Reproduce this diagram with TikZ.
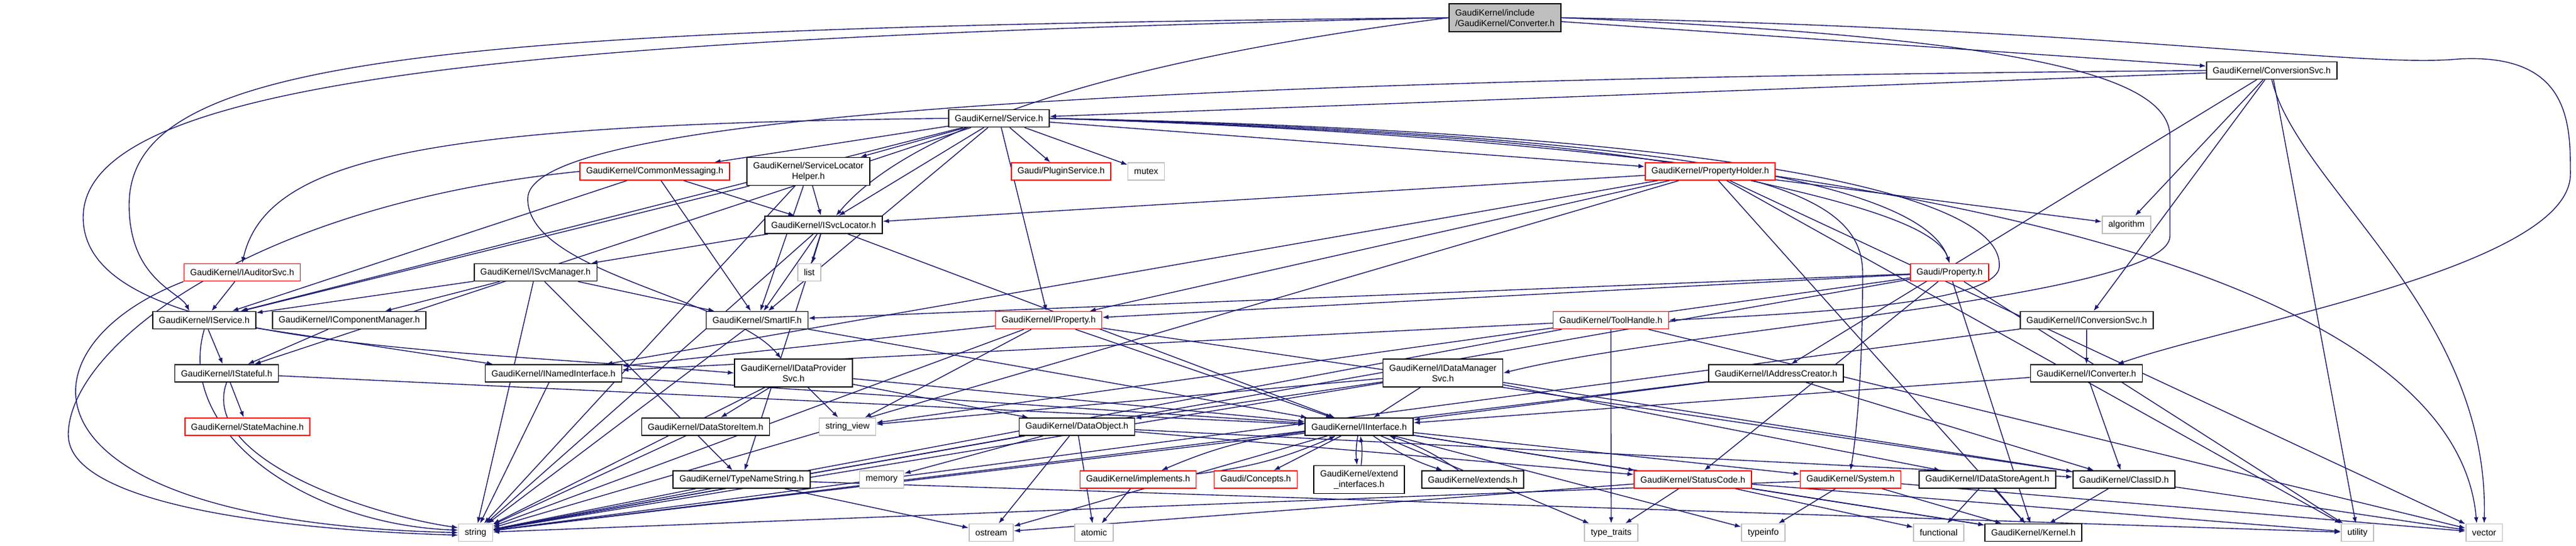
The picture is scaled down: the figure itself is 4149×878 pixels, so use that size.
\documentclass[tikz,border=0pt]{standalone}
\usepackage{fontspec}
\setmainfont{Liberation Sans}
\usetikzlibrary{arrows.meta, positioning, backgrounds}
\definecolor{edgeblue}{RGB}{25, 25, 112}
\definecolor{sysgray}{RGB}{191, 191, 191}
\definecolor{truncred}{RGB}{255, 0, 0}
\newcommand{\hdrfont}{\fontsize{7.1}{8.5}\selectfont}

\tikzset{
  hdr/.style={draw=black, fill=white, line width=0.8pt, inner xsep=5pt, inner ysep=0pt, minimum height=14pt, font=\hdrfont},
  hdrtrunc/.style={hdr, draw=truncred},
  hdrsys/.style={hdr, draw=sysgray},
  hdrroot/.style={hdr, fill=sysgray},
  twoline/.style={minimum height=22.5pt, align=center},
  dep/.style={draw=edgeblue, line width=0.7pt, -{Latex[length=5pt, width=3.6pt]}},
}

\begin{document}
\begin{tikzpicture}[x=0.5pt, y=-0.5pt]
  \useasboundingbox (0,0) rectangle (4149,878);

  % Root and first levels
  \node[hdrroot, twoline, align=left] (conv) at (2424,28.5) {GaudiKernel/include\\/GaudiKernel/Converter.h};
  \node[hdr] (convsvc) at (3659,113.5) {GaudiKernel/ConversionSvc.h};
  \node[hdr] (service) at (1609,190.5) {GaudiKernel/Service.h};

  \node[hdrtrunc] (cmsg) at (1054.5,276) {GaudiKernel/CommonMessaging.h};
  \node[hdr, twoline] (slh) at (1302,276) {GaudiKernel/ServiceLocator\\Helper.h};
  \node[hdrtrunc] (plugin) at (1709,276) {Gaudi/PluginService.h};
  \node[hdrsys] (mutex) at (1846,276) {mutex};
  \node[hdrtrunc] (pholder) at (2754.5,276) {GaudiKernel/PropertyHolder.h};

  \node[hdr] (isvcloc) at (1326.5,362) {GaudiKernel/ISvcLocator.h};
  \node[hdrsys] (algo) at (3425,362) {algorithm};

  \node[hdrtrunc] (iaud) at (390,438.5) {GaudiKernel/IAuditorSvc.h};
  \node[hdr] (isvcmgr) at (862.5,438.5) {GaudiKernel/ISvcManager.h};
  \node[hdrsys] (list) at (1303.5,438.5) {list};
  \node[hdrtrunc] (prop) at (3140,438.5) {Gaudi/Property.h};

  \node[hdr] (iservice) at (329,515.5) {GaudiKernel/IService.h};
  \node[hdr] (icompmgr) at (562.5,515.5) {GaudiKernel/IComponentManager.h};
  \node[hdr] (smartif) at (1219.5,515.5) {GaudiKernel/SmartIF.h};
  \node[hdrtrunc] (iprop) at (1689,515.5) {GaudiKernel/IProperty.h};
  \node[hdrtrunc] (toolh) at (2594.5,515.5) {GaudiKernel/ToolHandle.h};
  \node[hdr] (iconvsvc) at (3361,515.5) {GaudiKernel/IConversionSvc.h};

  \node[hdr] (istateful) at (365,601) {GaudiKernel/IStateful.h};
  \node[hdr] (inamed) at (891.5,601) {GaudiKernel/INamedInterface.h};
  \node[hdr, twoline] (idps) at (1278,600.5) {GaudiKernel/IDataProvider\\Svc.h};
  \node[hdr, twoline] (idms) at (2324,600.5) {GaudiKernel/IDataManager\\Svc.h};
  \node[hdr] (iaddr) at (2860.5,601) {GaudiKernel/IAddressCreator.h};
  \node[hdr] (iconverter) at (3360.5,601) {GaudiKernel/IConverter.h};

  \node[hdrtrunc] (statem) at (398.5,687) {GaudiKernel/StateMachine.h};
  \node[hdr] (dsitem) at (1136.5,687) {GaudiKernel/DataStoreItem.h};
  \node[hdrsys] (strview) at (1365,687) {string\_view};
  \node[hdr] (dobj) at (1734.5,687) {GaudiKernel/DataObject.h};
  \node[hdr] (iiface) at (2189,687) {GaudiKernel/IInterface.h};

  \node[hdr] (tns) at (1194.5,772) {GaudiKernel/TypeNameString.h};
  \node[hdrsys] (memory) at (1420,772) {memory};
  \node[hdrtrunc] (impl) at (1833,772) {GaudiKernel/implements.h};
  \node[hdrtrunc] (concepts) at (2022.5,772) {Gaudi/Concepts.h};
  \node[hdr, twoline] (extif) at (2189,772) {GaudiKernel/extend\\\_interfaces.h};
  \node[hdr] (extends) at (2372,772) {GaudiKernel/extends.h};
  \node[hdrtrunc] (sc) at (2726.5,772) {GaudiKernel/StatusCode.h};
  \node[hdrtrunc] (system) at (2980.5,772) {GaudiKernel/System.h};
  \node[hdr] (idsa) at (3201,772) {GaudiKernel/IDataStoreAgent.h};
  \node[hdr] (classid) at (3421,772) {GaudiKernel/ClassID.h};

  % System headers
  \node[hdrsys] (string) at (766,857.5) {string};
  \node[hdrsys] (ostream) at (1596.5,857.5) {ostream};
  \node[hdrsys] (atomic) at (1762,857.5) {atomic};
  \node[hdrsys] (ttraits) at (2595,857.5) {type\_traits};
  \node[hdrsys] (typeinfo) at (2840,857.5) {typeinfo};
  \node[hdrsys] (functional) at (3122.5,857.5) {functional};
  \node[hdr] (kernel) at (3275,857.5) {GaudiKernel/Kernel.h};
  \node[hdrsys] (utility) at (3797,857.5) {utility};
  \node[hdrsys] (vector) at (4001,857.5) {vector};

  \begin{scope}[on background layer]
    % straight dependencies
    \foreach \src/\dst in {
      conv/convsvc,
      convsvc/service, convsvc/iconvsvc, convsvc/algo, convsvc/iaddr, convsvc/utility,
      service/cmsg, service/slh, service/plugin, service/mutex, service/pholder, service/isvcloc,
      service/iservice, service/istateful, service/smartif, service/iprop,
      cmsg/iservice, cmsg/isvcloc, cmsg/smartif,
      slh/isvcloc, slh/iservice, slh/smartif, slh/string,
      pholder/algo, pholder/isvcloc, pholder/iprop, pholder/inamed, pholder/string,
      pholder/kernel, pholder/utility, pholder/vector,
      isvcloc/isvcmgr, isvcloc/list, isvcloc/smartif, isvcloc/iiface, isvcloc/string, isvcloc/tns,
      iaud/iservice,
      isvcmgr/icompmgr, isvcmgr/iservice, isvcmgr/smartif, isvcmgr/string, isvcmgr/tns,
      prop/iprop, prop/smartif, prop/strview, prop/string, prop/sc, prop/kernel, prop/utility,
      iservice/istateful, iservice/inamed,
      icompmgr/istateful,
      smartif/iiface, smartif/string,
      iprop/iiface, iprop/inamed, iprop/strview, iprop/string, iprop/vector,
      toolh/inamed, toolh/ttraits, toolh/string, toolh/vector,
      iconvsvc/iconverter, iconvsvc/string,
      istateful/statem, istateful/iiface,
      inamed/iiface, inamed/string,
      idps/dobj, idps/dsitem, idps/strview, idps/iiface, idps/string,
      idms/iiface, idms/dobj, idms/classid, idms/idsa, idms/strview, idms/string,
      iaddr/iiface, iaddr/classid, iaddr/string,
      iconverter/iiface, iconverter/classid,
      dsitem/string,
      dobj/memory, dobj/ostream, dobj/atomic, dobj/string, dobj/classid, dobj/sc,
      iiface/concepts, iiface/sc, iiface/system, iiface/ttraits, iiface/typeinfo,
      iiface/kernel, iiface/ostream, iiface/string,
      impl/atomic,
      tns/string, tns/ostream, tns/utility,
      sc/ostream, sc/ttraits, sc/kernel, sc/functional, sc/utility,
      system/typeinfo, system/kernel, system/vector, system/string,
      idsa/functional, idsa/kernel,
      classid/kernel}
      \draw[dep] (\src) -- (\dst);

    % IInterface and its helpers include each other
    \foreach \other in {impl, extif, extends} {
      \draw[dep] (iiface) to[bend right=8] (\other);
      \draw[dep] (\other) to[bend right=8] (iiface);
    }

    % left hand curves into string
    \draw[dep] (iaud.south west) .. controls (20,560) and (10,840) .. (string.west);
    \draw[dep] (cmsg.west) .. controls (400,330) and (110,560) .. (110,700)
      .. controls (110,820) and (500,855) .. ([yshift=-2pt]string.west);
    \draw[dep] (iservice.south) .. controls (280,700) and (500,845) .. ([yshift=2pt]string.west);
    \draw[dep] (istateful.south) .. controls (320,740) and (600,830) .. ([yshift=4pt]string.west);

    % long routed dependencies
    \draw[dep] (conv.west) .. controls (700,45) and (208,90) .. (208,330)
      .. controls (208,450) and (290,470) .. ([xshift=-12pt]iservice.north);
    \draw[dep] (conv.west) .. controls (900,60) and (134,120) .. (134,350)
      .. controls (134,560) and (700,560) .. (idps.west);
    \draw[dep] (conv.west) .. controls (1850,90) and (1480,190) .. ([xshift=10pt]isvcloc.north);
    \draw[dep] (conv.east) .. controls (3400,45) and (3800,110) .. (3960,95)
      .. controls (4140,85) and (4140,200) .. (4140,280)
      .. controls (4140,430) and (3600,520) .. ([xshift=25pt]iconverter.north);
    \draw[dep] (conv.east) .. controls (3250,60) and (3495,120) .. (3495,220)
      -- (3495,380) .. controls (3495,480) and (2700,530) .. (idms.east);
    \draw[dep] (convsvc.west) .. controls (1500,130) and (850,210) .. (850,320)
      .. controls (850,440) and (1180,480) .. ([xshift=-10pt]idps.north);
    \draw[dep] (convsvc.south) .. controls (3700,300) and (4010,500) .. (vector.north);
    \draw[dep] (service.west) .. controls (700,200) and (430,250) .. (iaud.north);
    \draw[dep] (service.east) .. controls (2700,215) and (3100,300) .. (prop.north);
    \draw[dep] (service.east) .. controls (2700,210) and (3230,300) .. (3220,430)
      .. controls (3215,490) and (2900,505) .. (toolh.east);
    \draw[dep] (service.east) .. controls (2800,225) and (3000,300) .. (3000,440)
      .. controls (3000,600) and (2990,700) .. (system.north);
    \draw[dep] (service.east) .. controls (3300,240) and (3960,500) .. ([xshift=-6pt]vector.north);
    \draw[dep] (pholder) .. controls (2950,320) and (3120,360) .. (prop.north);
  \end{scope}
\end{tikzpicture}
\end{document}
